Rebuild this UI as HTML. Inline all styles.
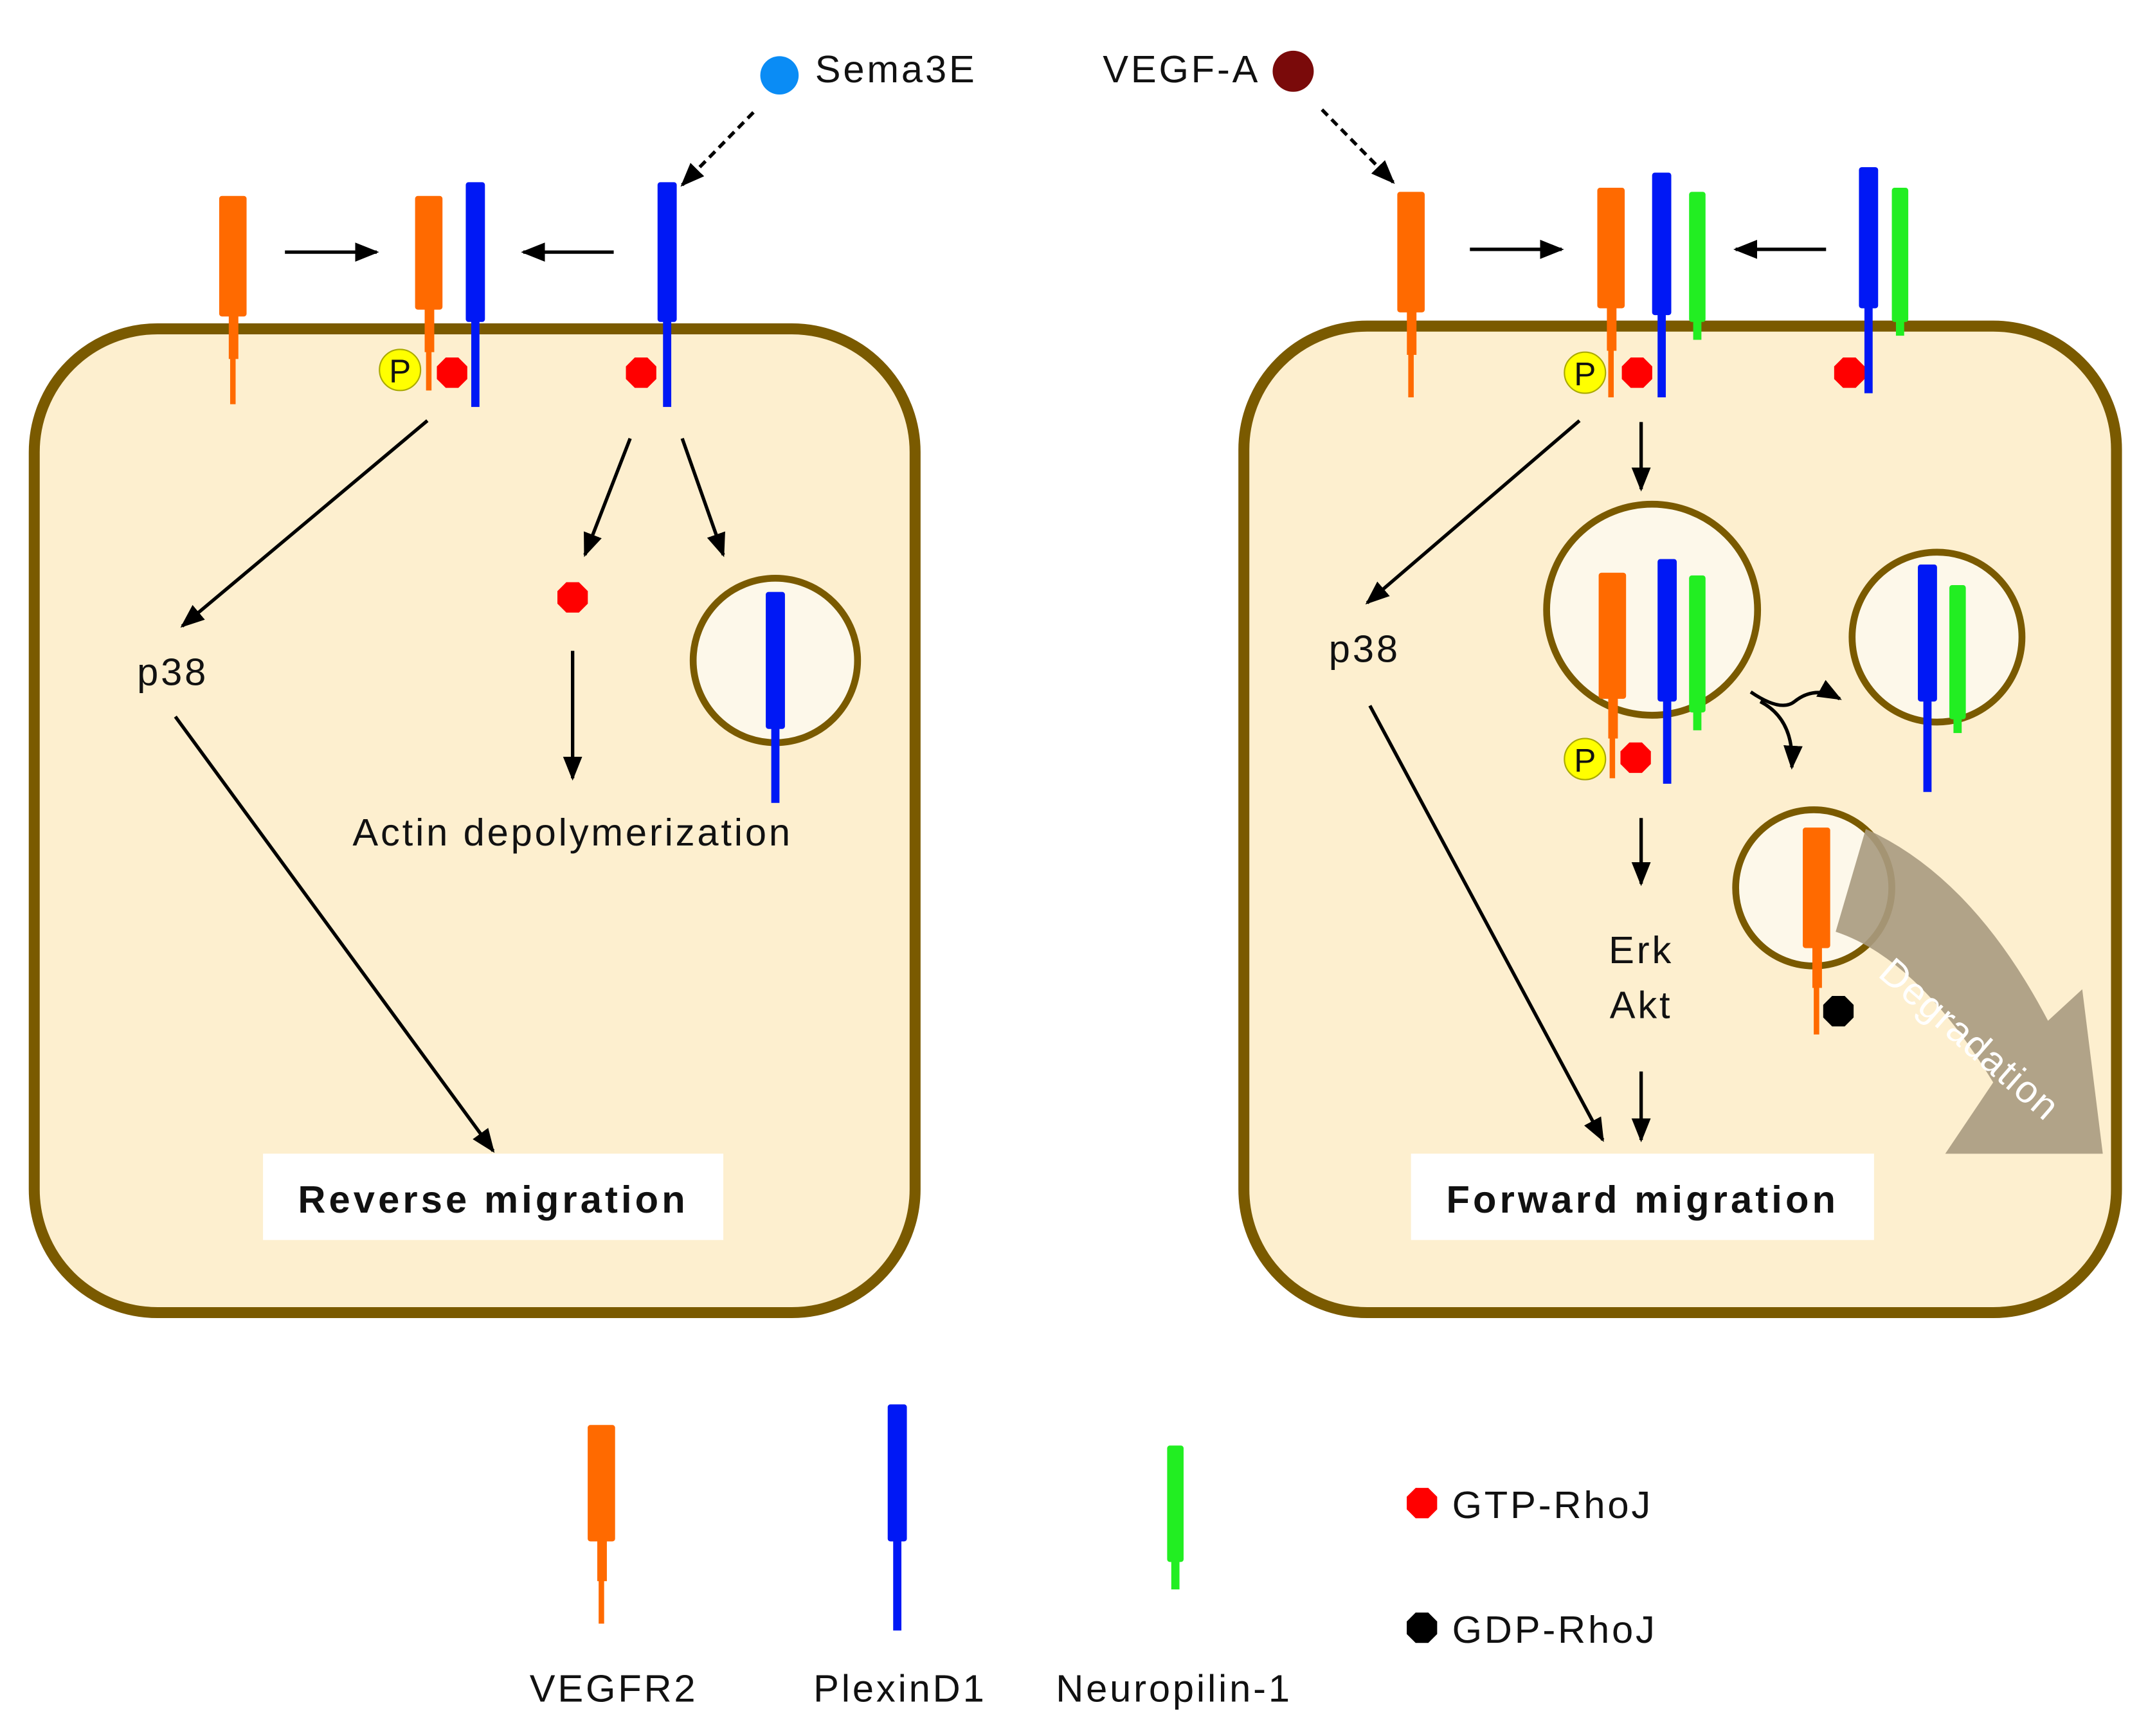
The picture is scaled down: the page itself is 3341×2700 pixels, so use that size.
<!DOCTYPE html>
<html><head><meta charset="utf-8"><style>
html,body{margin:0;padding:0;background:#fff}
svg{display:block}
text{font-family:"Liberation Sans",sans-serif;fill:#111;letter-spacing:1.8px}
</style></head><body>
<svg width="3341" height="2700" viewBox="0 0 1568 1267" preserveAspectRatio="none" xmlns="http://www.w3.org/2000/svg">
<defs>
<marker id="ah" viewBox="0 0 10 10" refX="9" refY="5" markerWidth="7" markerHeight="7" orient="auto"><path d="M0,1 L10,5 L0,9 z" fill="#000"/></marker>
<polygon id="oct" points="-4.6,-11.1 4.6,-11.1 11.1,-4.6 11.1,4.6 4.6,11.1 -4.6,11.1 -11.1,4.6 -11.1,-4.6"/>
</defs>
<rect x="25" y="240" width="643" height="718" rx="90" fill="#fdefcf" stroke="#7a5a00" stroke-width="8"/>
<rect x="908" y="238" width="637" height="720" rx="90" fill="#fdefcf" stroke="#7a5a00" stroke-width="8"/>

<circle cx="569" cy="55" r="14" fill="#0a8cf5"/>
<text x="595" y="60" font-size="28">Sema3E</text>
<line x1="550" y1="82" x2="498" y2="135" stroke="#000" stroke-width="2.5" stroke-dasharray="6,4" marker-end="url(#ah)"/>
<text x="920" y="60" font-size="28" text-anchor="end">VEGF-A</text>
<circle cx="944" cy="52" r="15" fill="#7a0a0a"/>
<line x1="965" y1="80" x2="1017" y2="133" stroke="#000" stroke-width="2.5" stroke-dasharray="6,4" marker-end="url(#ah)"/>

<g stroke="#000" stroke-width="2.5" fill="none" marker-end="url(#ah)">
<line x1="208" y1="184" x2="275" y2="184"/>
<line x1="448" y1="184" x2="382" y2="184"/>
<line x1="312" y1="307" x2="133" y2="457"/>
<line x1="128" y1="523" x2="360" y2="840"/>
<line x1="460" y1="320" x2="427" y2="405"/>
<line x1="498" y1="320" x2="528" y2="405"/>
<line x1="418" y1="475" x2="418" y2="568"/>
<line x1="1073" y1="182" x2="1140" y2="182"/>
<line x1="1333" y1="182" x2="1267" y2="182"/>
<line x1="1153" y1="307" x2="998" y2="440"/>
<line x1="1000" y1="515" x2="1170" y2="832"/>
<line x1="1198" y1="308" x2="1198" y2="357"/>
<line x1="1198" y1="597" x2="1198" y2="645"/>
<line x1="1198" y1="782" x2="1198" y2="832"/>
<path d="M1278,505 Q1300,520 1310,512 Q1325,500 1343,510"/>
<path d="M1285,512 Q1310,525 1308,560"/>
</g>

<circle cx="566" cy="482" r="60" fill="#fdf8ea" stroke="#7a5a00" stroke-width="5"/>
<circle cx="1206" cy="445" r="77" fill="#fdf8ea" stroke="#7a5a00" stroke-width="5"/>
<circle cx="1414" cy="465" r="62" fill="#fdf8ea" stroke="#7a5a00" stroke-width="5"/>
<circle cx="1324" cy="648" r="57" fill="#fdf8ea" stroke="#7a5a00" stroke-width="5"/>

<path d="M1340,680 Q1400,700 1455,790 L1420,842 L1535,842 L1520,722 L1495,745 Q1440,640 1362,605 Z" fill="#a89a80" opacity="0.9"/>
<text x="0" y="0" font-size="28" style="fill:#fff;letter-spacing:1px" transform="translate(1370,712) rotate(41)">Degradation</text>

<g fill="#ff6a00">
<rect x="160" y="143" width="20" height="88" rx="2"/><rect x="167" y="230" width="7" height="32"/><rect x="168" y="260" width="4" height="35"/>
<rect x="303" y="143" width="20" height="83" rx="2"/><rect x="310" y="225" width="7" height="32"/><rect x="311" y="255" width="4" height="30"/>
<rect x="1020" y="140" width="20" height="88" rx="2"/><rect x="1027" y="227" width="7" height="32"/><rect x="1028" y="257" width="4" height="33"/>
<rect x="1166" y="137" width="20" height="88" rx="2"/><rect x="1173" y="224" width="7" height="32"/><rect x="1174" y="254" width="4" height="36"/>
<rect x="1167" y="418" width="20" height="92" rx="2"/><rect x="1174" y="509" width="7" height="30"/><rect x="1175" y="537" width="4" height="31"/>
<rect x="1316" y="604" width="20" height="88" rx="2"/><rect x="1323" y="691" width="7" height="30"/><rect x="1324" y="719" width="4" height="36"/>
<rect x="429" y="1040" width="20" height="85" rx="2"/><rect x="436" y="1124" width="7" height="30"/><rect x="437" y="1152" width="4" height="33"/>
</g>
<g fill="#0018f5">
<rect x="340" y="133" width="14" height="102" rx="2"/><rect x="344" y="234" width="6" height="63"/>
<rect x="480" y="133" width="14" height="102" rx="2"/><rect x="484" y="234" width="6" height="63"/>
<rect x="559" y="432" width="14" height="100" rx="2"/><rect x="563" y="531" width="6" height="55"/>
<rect x="1206" y="126" width="14" height="104" rx="2"/><rect x="1210" y="229" width="6" height="61"/>
<rect x="1357" y="122" width="14" height="103" rx="2"/><rect x="1361" y="224" width="6" height="63"/>
<rect x="1210" y="408" width="14" height="104" rx="2"/><rect x="1214" y="511" width="6" height="61"/>
<rect x="1400" y="412" width="14" height="100" rx="2"/><rect x="1404" y="511" width="6" height="67"/>
<rect x="648" y="1025" width="14" height="100" rx="2"/><rect x="652" y="1124" width="6" height="66"/>
</g>
<g fill="#22ee22">
<rect x="1233" y="140" width="12" height="95" rx="2"/><rect x="1236" y="234" width="6" height="14"/>
<rect x="1381" y="137" width="12" height="98" rx="2"/><rect x="1384" y="234" width="6" height="11"/>
<rect x="1233" y="420" width="12" height="100" rx="2"/><rect x="1236" y="519" width="6" height="14"/>
<rect x="1423" y="427" width="12" height="98" rx="2"/><rect x="1426" y="524" width="6" height="11"/>
<rect x="852" y="1055" width="12" height="85" rx="2"/><rect x="855" y="1139" width="6" height="21"/>
</g>

<g fill="#ff0000">
<use href="#oct" x="330" y="272"/><use href="#oct" x="468" y="272"/><use href="#oct" x="418" y="436"/>
<use href="#oct" x="1195" y="272"/><use href="#oct" x="1350" y="272"/><use href="#oct" x="1194" y="553"/>
<use href="#oct" x="1038" y="1097"/>
</g>
<g fill="#000"><use href="#oct" x="1342" y="738"/><use href="#oct" x="1038" y="1188"/></g>
<g font-size="24">
<circle cx="292" cy="270" r="15" fill="#ffff00" stroke="#aa0" stroke-width="1"/><text x="292" y="279" text-anchor="middle" style="letter-spacing:0">P</text>
<circle cx="1157" cy="272" r="15" fill="#ffff00" stroke="#aa0" stroke-width="1"/><text x="1157" y="281" text-anchor="middle" style="letter-spacing:0">P</text>
<circle cx="1157" cy="554" r="15" fill="#ffff00" stroke="#aa0" stroke-width="1"/><text x="1157" y="563" text-anchor="middle" style="letter-spacing:0">P</text>
</g>

<g font-size="28">
<text x="100" y="500">p38</text>
<text x="970" y="483">p38</text>
<text x="418" y="617" text-anchor="middle">Actin depolymerization</text>
<text x="1198" y="703" text-anchor="middle">Erk</text>
<text x="1198" y="743" text-anchor="middle">Akt</text>
<text x="448" y="1242" text-anchor="middle">VEGFR2</text>
<text x="657" y="1242" text-anchor="middle">PlexinD1</text>
<text x="857" y="1242" text-anchor="middle">Neuropilin-1</text>
<text x="1060" y="1108">GTP-RhoJ</text>
<text x="1060" y="1199">GDP-RhoJ</text>
</g>
<rect x="192" y="842" width="336" height="63" fill="#fff"/>
<text x="360" y="885" font-size="28" font-weight="bold" text-anchor="middle" style="letter-spacing:2.4px">Reverse migration</text>
<rect x="1030" y="842" width="338" height="63" fill="#fff"/>
<text x="1199" y="885" font-size="28" font-weight="bold" text-anchor="middle" style="letter-spacing:2.4px">Forward migration</text>
</svg>
</body></html>
